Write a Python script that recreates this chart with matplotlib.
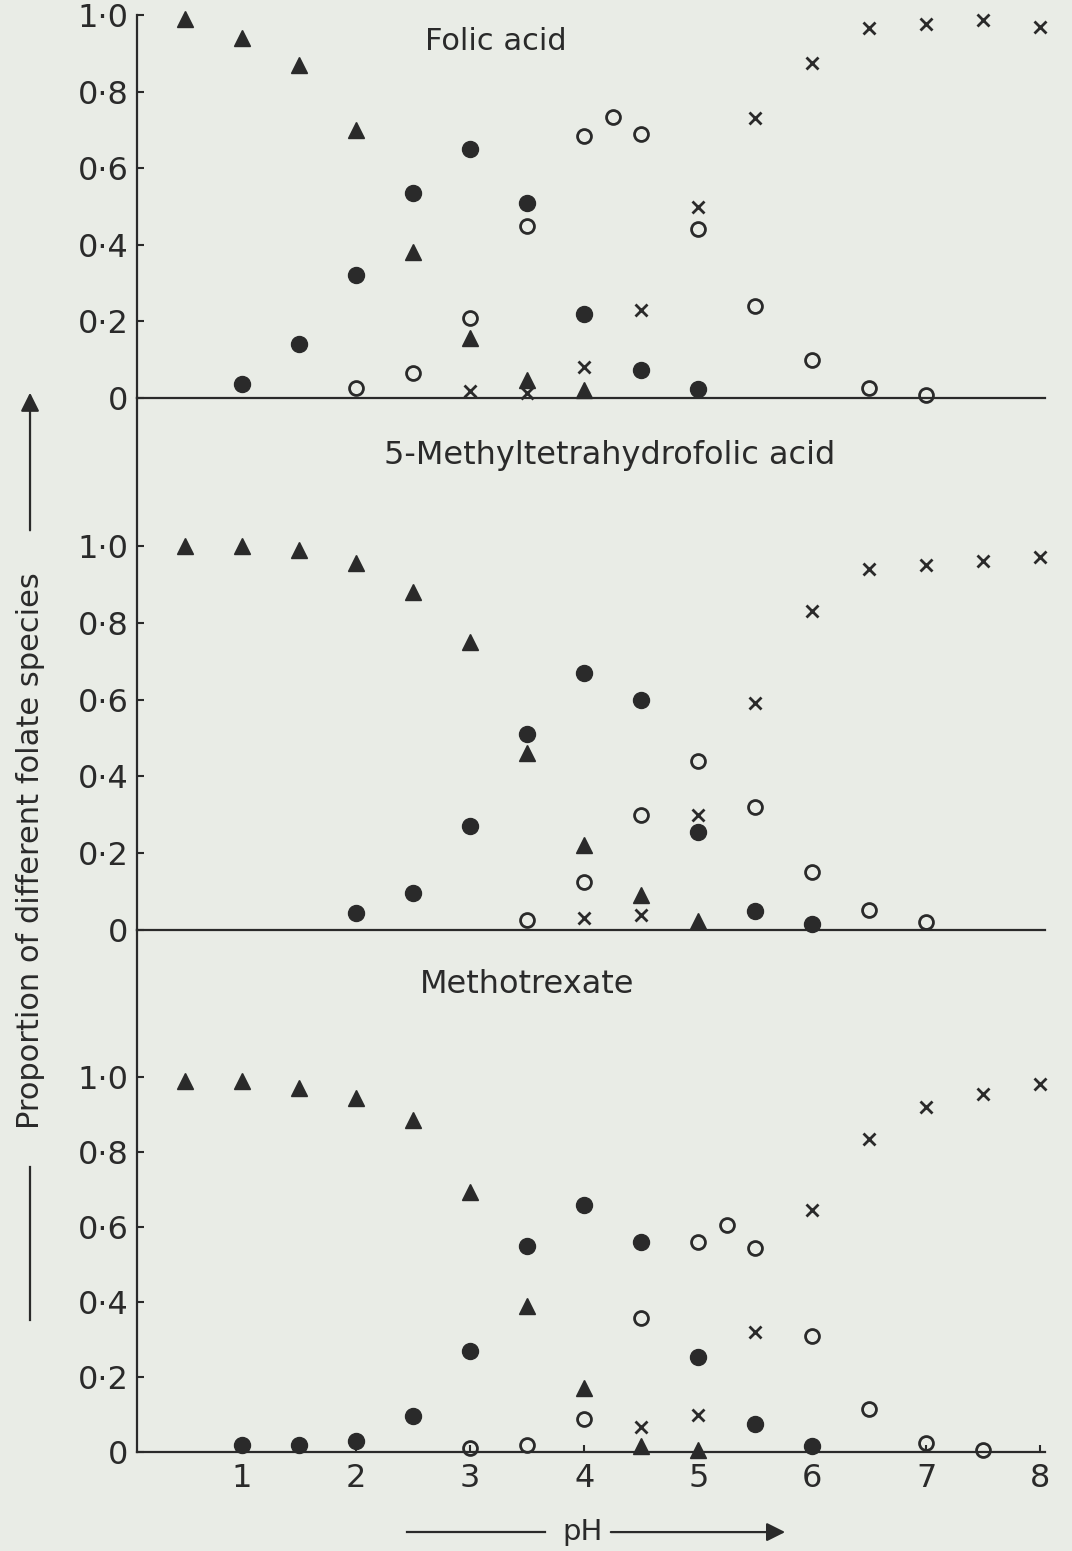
import matplotlib.pyplot as plt
from matplotlib.lines import Line2D
from matplotlib.patches import FancyArrowPatch

plt.rcParams['font.family'] = ['DejaVu Sans']

paper = '#e9ece6'
ink = '#2a2a2a'

# Folic acid
fa_tri_ph = [0.5, 1.0, 1.5, 2.0, 2.5, 3.0, 3.5, 4.0]
fa_tri = [0.99, 0.94, 0.87, 0.70, 0.38, 0.157, 0.047, 0.02]
fa_dot_ph = [1.0, 1.5, 2.0, 2.5, 3.0, 3.5, 4.0, 4.5, 5.0]
fa_dot = [0.037, 0.14, 0.32, 0.535, 0.65, 0.51, 0.22, 0.073, 0.023]
fa_ring_ph = [2.0, 2.5, 3.0, 3.5, 4.0, 4.25, 4.5, 5.0, 5.5, 6.0, 6.5, 7.0]
fa_ring = [0.026, 0.065, 0.21, 0.45, 0.684, 0.733, 0.69, 0.44, 0.24, 0.10, 0.026, 0.008]
fa_cross_ph = [3.0, 3.5, 4.0, 4.5, 5.0, 5.5, 6.0, 6.5, 7.0, 7.5, 8.0]
fa_cross = [0.018, 0.013, 0.08, 0.23, 0.50, 0.73, 0.875, 0.966, 0.977, 0.987, 0.969]

# 5-methyltetrahydrofolic acid
mt_tri_ph = [0.5, 1.0, 1.5, 2.0, 2.5, 3.0, 3.5, 4.0, 4.5, 5.0]
mt_tri = [1.0, 1.0, 0.99, 0.955, 0.88, 0.75, 0.46, 0.22, 0.09, 0.023]
mt_dot_ph = [2.0, 2.5, 3.0, 3.5, 4.0, 4.5, 5.0, 5.5, 6.0]
mt_dot = [0.044, 0.096, 0.27, 0.51, 0.67, 0.60, 0.255, 0.05, 0.016]
mt_ring_ph = [3.5, 4.0, 4.5, 5.0, 5.5, 6.0, 6.5, 7.0]
mt_ring = [0.026, 0.125, 0.30, 0.44, 0.32, 0.15, 0.052, 0.02]
mt_cross_ph = [4.0, 4.5, 5.0, 5.5, 6.0, 6.5, 7.0, 7.5, 8.0]
mt_cross = [0.03, 0.04, 0.30, 0.59, 0.83, 0.94, 0.95, 0.96, 0.97]

# Methotrexate
mx_tri_ph = [0.5, 1.0, 1.5, 2.0, 2.5, 3.0, 3.5, 4.0, 4.5, 5.0]
mx_tri = [0.99, 0.99, 0.97, 0.944, 0.885, 0.693, 0.39, 0.17, 0.016, 0.005]
mx_dot_ph = [1.0, 1.5, 2.0, 2.5, 3.0, 3.5, 4.0, 4.5, 5.0, 5.5, 6.0]
mx_dot = [0.02, 0.02, 0.03, 0.096, 0.27, 0.55, 0.66, 0.56, 0.253, 0.075, 0.015]
mx_ring_ph = [3.0, 3.5, 4.0, 4.5, 5.0, 5.25, 5.5, 6.0, 6.5, 7.0, 7.5]
mx_ring = [0.01, 0.02, 0.088, 0.357, 0.56, 0.605, 0.544, 0.31, 0.115, 0.025, 0.005]
mx_cross_ph = [4.5, 5.0, 5.5, 6.0, 6.5, 7.0, 7.5, 8.0]
mx_cross = [0.067, 0.10, 0.32, 0.645, 0.835, 0.92, 0.955, 0.98]

y_ticks = [0, 0.2, 0.4, 0.6, 0.8, 1.0]
y_labels = ['0', '0\u00b72', '0\u00b74', '0\u00b76', '0\u00b78', '1\u00b70']
x_ticks = [1, 2, 3, 4, 5, 6, 7, 8]

panels = [
    ('Folic acid', (0.4627, 0.973), 22, [0.1278, 0.7434, 0.847, 0.2469], 1.0,
     (fa_tri_ph, fa_tri), (fa_dot_ph, fa_dot), (fa_ring_ph, fa_ring), (fa_cross_ph, fa_cross)),
    ('5-Methyltetrahydrofolic acid', (0.569, 0.7066), 23, [0.1278, 0.4004, 0.847, 0.3430], 1.385,
     (mt_tri_ph, mt_tri), (mt_dot_ph, mt_dot), (mt_ring_ph, mt_ring), (mt_cross_ph, mt_cross)),
    ('Methotrexate', (0.4916, 0.365), 23, [0.1278, 0.0638, 0.847, 0.3366], 1.392,
     (mx_tri_ph, mx_tri), (mx_dot_ph, mx_dot), (mx_ring_ph, mx_ring), (mx_cross_ph, mx_cross)),
]

fig = plt.figure(figsize=(10.72, 15.51), dpi=100, facecolor=paper)

for i, (name, tpos, tsize, rect, ytop, tri, dot, ring, cross) in enumerate(panels):
    ax = fig.add_axes(rect)
    ax.set_facecolor('none')
    ax.set_xlim(0.08, 8.04)
    ax.set_ylim(0, ytop)
    for s in ['top', 'right']:
        ax.spines[s].set_visible(False)
    for s in ['left', 'bottom']:
        ax.spines[s].set_linewidth(1.6)
        ax.spines[s].set_color(ink)

    ax.plot(*tri, ls='none', marker='^', ms=12, color=ink, clip_on=False)
    ax.plot(*dot, ls='none', marker='o', ms=11.5, color=ink, clip_on=False)
    ax.plot(*ring, ls='none', marker='o', ms=10, mfc='none', mec=ink, mew=2, clip_on=False)
    ax.plot(*cross, ls='none', marker='x', ms=9, mec=ink, mew=2, clip_on=False)

    ax.set_yticks(y_ticks)
    ax.set_yticklabels(y_labels)
    ax.tick_params(axis='y', direction='in', length=5, width=1.5, color=ink,
                   labelsize=23, labelcolor=ink, pad=6)
    if i == 2:
        ax.set_xticks(x_ticks)
        ax.tick_params(axis='x', direction='in', length=5, width=1.5, color=ink,
                       labelsize=23, labelcolor=ink, pad=8)
    else:
        ax.set_xticks([])

    fig.text(tpos[0], tpos[1], name, ha='center', va='center', fontsize=tsize, color=ink)

# y axis caption with arrow
fig.text(0.028, 0.4513, 'Proportion of different folate species', rotation=90,
         ha='center', va='center', fontsize=22, color=ink)
fig.add_artist(FancyArrowPatch((0.028, 0.6563), (0.028, 0.7486), transform=fig.transFigure,
                               arrowstyle='-|>', mutation_scale=28, lw=1.6, color=ink))
fig.add_artist(Line2D([0.028, 0.028], [0.2476, 0.1489], transform=fig.transFigure,
                      lw=1.6, color=ink))

# x axis caption with arrow
fig.text(0.543, 0.0125, 'pH', ha='center', va='center', fontsize=21, color=ink)
fig.add_artist(Line2D([0.3797, 0.5084], [0.0122, 0.0122], transform=fig.transFigure,
                      lw=1.6, color=ink))
fig.add_artist(FancyArrowPatch((0.5672, 0.0122), (0.735, 0.0122), transform=fig.transFigure,
                               arrowstyle='-|>', mutation_scale=28, lw=1.6, color=ink))

fig.savefig('out.png', dpi=100, facecolor=paper)
